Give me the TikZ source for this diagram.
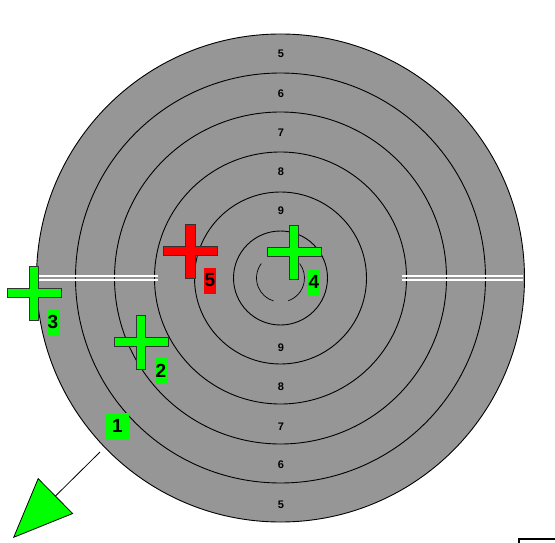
\documentclass[tikz,border=0pt]{standalone}
\usepackage{fontspec}
\setmainfont{Liberation Sans}
\usepackage{tikz}
\usetikzlibrary{arrows.meta,calc}
\definecolor{tgray}{HTML}{969696}
\definecolor{hitgreen}{HTML}{00FF00}
\definecolor{hitred}{HTML}{FF0000}
\tikzset{
  ring/.style={draw=black,line width=0.9pt},
  ringnum/.style={font=\bfseries\fontsize{11}{11}\selectfont,inner sep=0pt},
  tag/.style={fill=#1,inner sep=0pt,minimum width=12pt,minimum height=26pt,font=\bfseries\fontsize{19}{19}\selectfont},
  tag/.default={hitgreen},
  slot/.style={draw=white,line width=2pt},
  arr/.style={-{Triangle[length=60pt,width=50pt,fill=hitgreen]},draw=black,line width=0.8pt},
  pics/hit/.style={code={
    \filldraw[fill=#1,draw=black!80,line width=0.8pt]
      (-4.7,-27) -- (4.7,-27) -- (4.7,-4.7) -- (27,-4.7) -- (27,4.7) -- (4.7,4.7)
      -- (4.7,27) -- (-4.7,27) -- (-4.7,4.7) -- (-27,4.7) -- (-27,-4.7) -- (-4.7,-4.7) -- cycle;
  }},
}
\begin{document}
\begin{tikzpicture}[x=1pt,y=-1pt]
 \useasboundingbox (0,0) rectangle (555,543);
 \coordinate (c) at (280.5,278);
 % target face
 \filldraw[fill=tgray,ring] (c) circle (244);
 \foreach \r in {205,166,126,86,47}
   \draw[ring] (c) circle (\r);
 \draw[ring,line width=0.7pt] ($(c)+(143:24 and -24)$) arc[start angle=-143,end angle=-253,radius=24];
 \draw[ring,line width=0.7pt] ($(c)+(-71:24 and -24)$) arc[start angle=71,end angle=-37,radius=24];
 % slots
 \draw[slot] (39,275.5) -- (158,275.5);
 \draw[slot] (39,279.5) -- (158,279.5);
 \draw[slot] (402,275.5) -- (523,275.5);
 \draw[slot] (402,279.5) -- (523,279.5);
 % ring values
 \foreach \v/\d in {5/225.5,6/185.5,7/147,8/107.5,9/68.5}{
   \node[ringnum] (top\v) at (281,279.5-\d) {\v};
   \node[ringnum] (bot\v) at (281,279.5+\d) {\v};
 }
 % hits
 \pic at (294,252) {hit=hitgreen};
 \pic at (190.5,251) {hit=hitred};
 \pic at (141,342) {hit=hitgreen};
 \pic at (34,293) {hit=hitgreen};
 \node[tag] (t4) at (314,281.5) {4};
 \node[tag=hitred] (t5) at (210,280.5) {5};
 \node[tag] (t2) at (161,370.5) {2};
 \node[tag] (t3) at (53,322) {3};
 \node[tag,minimum width=23pt] (t1) at (117.5,426) {1};
 % shot outside
 \coordinate (out) at (100,452);
 \coordinate (tip) at (13,538);
 \draw[arr] (out) -- (tip);
 \draw[line width=1.6pt] (519,544) -- (519,539) -- (556,539);
\end{tikzpicture}
\end{document}
